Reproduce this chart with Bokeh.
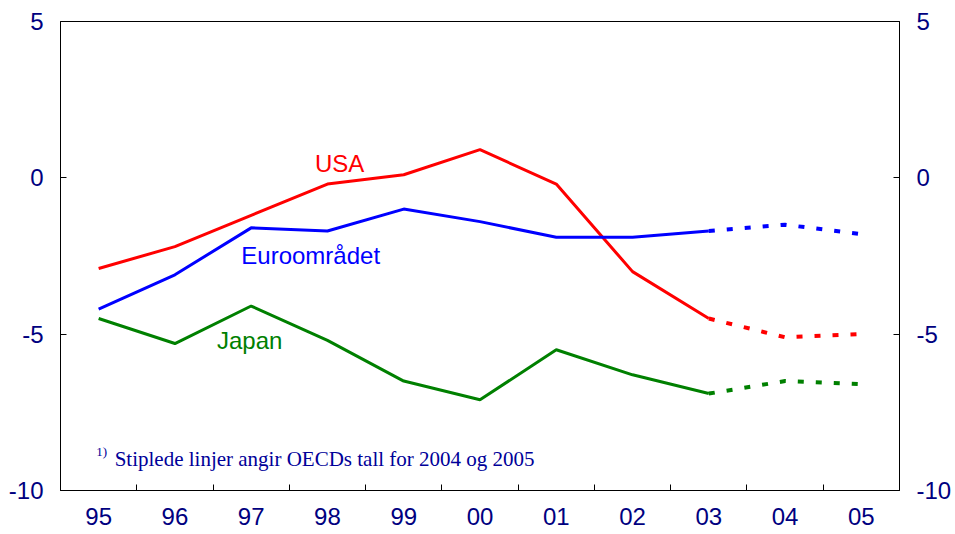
from bokeh.plotting import figure
from bokeh.models import Range1d, LinearAxis, FixedTicker, Label
from bokeh.embed import file_html
from bokeh.resources import INLINE

years = ["95", "96", "97", "98", "99", "00", "01", "02", "03", "04", "05"]
usa = [-2.9, -2.2, -1.2, -0.2, 0.1, 0.9, -0.2, -3.0, -4.5, -5.1, -5.0]
euro = [-4.2, -3.1, -1.6, -1.7, -1.0, -1.4, -1.9, -1.9, -1.7, -1.5, -1.8]
japan = [-4.5, -5.3, -4.1, -5.2, -6.5, -7.1, -5.5, -6.3, -6.9, -6.5, -6.6]
y_ticks = [-10, -5, 0, 5]
y_tick_labels = ["-10", "-5", "0", "5"]
split = 8  # last actual year index; after this OECD forecasts (dashed)

xs = list(range(len(years)))
navy = "#000080"

p = figure(width=955, height=534, output_backend="svg", toolbar_location=None,
           x_range=Range1d(-0.5, len(years) - 0.5), y_range=Range1d(-10, 5),
           min_border_left=60, min_border_right=56, min_border_top=21, min_border_bottom=44)
p.xgrid.visible = False
p.ygrid.visible = False
p.outline_line_color = "black"
p.outline_line_width = 1
p.background_fill_color = "white"
p.border_fill_color = "white"

series = [(usa, "#FF0000"), (euro, "#0000FF"), (japan, "#008000")]
for vals, col in series:
    p.line(xs[:split + 1], vals[:split + 1], line_color=col, line_width=3)
    p.line(xs[split:], vals[split:], line_color=col, line_width=4, line_dash="6 12")

# x axis
xa = p.xaxis[0]
xa.ticker = FixedTicker(ticks=xs, minor_ticks=[i + 0.5 for i in xs[:-1]])
xa.major_label_overrides = {i: y for i, y in enumerate(years)}
xa.major_tick_in = 0
xa.major_tick_out = 0
xa.minor_tick_in = 6
xa.minor_tick_out = 0
xa.minor_tick_line_color = "black"
xa.axis_line_color = "black"
xa.major_label_text_font = "Liberation Sans"
xa.major_label_text_font_size = "24px"
xa.major_label_text_color = navy
xa.major_label_standoff = 17

def style_y(ax):
    ax.ticker = FixedTicker(ticks=y_ticks)
    ax.major_label_overrides = {t: l for t, l in zip(y_ticks, y_tick_labels)}
    ax.major_tick_in = 6
    ax.major_tick_out = 0
    ax.minor_tick_in = 0
    ax.minor_tick_out = 0
    ax.axis_line_color = "black"
    ax.major_tick_line_color = "black"
    ax.major_label_text_font = "Liberation Sans"
    ax.major_label_text_font_size = "24px"
    ax.major_label_text_color = navy
    ax.major_label_standoff = 17

style_y(p.yaxis[0])
ra = LinearAxis()
style_y(ra)
p.add_layout(ra, "right")

for txt, x, y, col in [("USA", 3.16, 0.45, "#FF0000"),
                       ("Euroområdet", 2.78, -2.48, "#0000FF"),
                       ("Japan", 1.98, -5.19, "#008000")]:
    p.add_layout(Label(x=x, y=y, text=txt, text_color=col, text_font="Liberation Sans",
                       text_font_size="24px", text_align="center", text_baseline="middle"))

p.add_layout(Label(x=-0.03, y=-8.76, text="1)", text_color="#000099", text_font="Liberation Serif",
                   text_font_size="13px", text_align="left", text_baseline="middle"))
p.add_layout(Label(x=0.21, y=-9.0, text="Stiplede linjer angir OECDs tall for 2004 og 2005",
                   text_color="#000099", text_font="Liberation Serif",
                   text_font_size="21px", text_align="left", text_baseline="middle"))

open("out.html", "w").write(file_html(p, INLINE))
